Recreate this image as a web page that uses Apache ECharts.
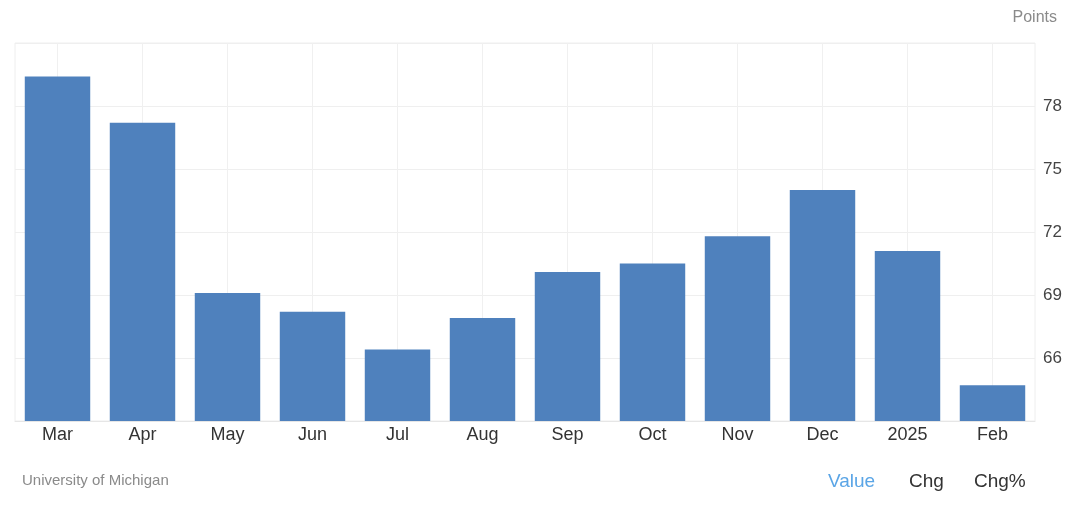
<!DOCTYPE html>
<html>
<head>
<meta charset="utf-8">
<script src="https://cdn.jsdelivr.net/npm/echarts@6/dist/echarts.min.js"></script>
<style>
html,body{margin:0;padding:0;background:#fff;}
#c{width:1080px;height:520px;}
</style>
</head>
<body>
<div id="c"></div>
<script>
const categories = ['Mar','Apr','May','Jun','Jul','Aug','Sep','Oct','Nov','Dec','2025','Feb'];
const values = [79.4, 77.2, 69.1, 68.2, 66.4, 67.9, 70.1, 70.5, 71.8, 74.0, 71.1, 64.7];
const yTickLabels = [66, 69, 72, 75, 78];

const chart = echarts.init(document.getElementById('c'));
const font = 'Liberation Sans, Arial, sans-serif';
chart.setOption({
  animation: false,
  textStyle: { fontFamily: font },
  grid: { left: 15, right: 45, top: 43, bottom: 99, show: true, borderColor: '#eeeeee', borderWidth: 1 },
  xAxis: {
    type: 'category',
    data: categories,
    axisLine: { show: true, lineStyle: { color: '#e6e6e6', width: 1 } },
    axisTick: { show: false },
    axisLabel: { color: '#333', fontSize: 18, margin: 5, fontFamily: font },
    splitLine: { show: true, alignWithLabel: true, lineStyle: { color: '#f0f0f0', width: 1 } }
  },
  yAxis: {
    type: 'value',
    position: 'right',
    min: 63,
    max: 81,
    interval: 3,
    axisLine: { show: false },
    axisTick: { show: false },
    axisLabel: {
      color: '#444', fontSize: 17, margin: 8, fontFamily: font, verticalAlign: 'middle', padding: [4, 0, 0, 0],
      formatter: v => yTickLabels.includes(v) ? String(v) : ''
    },
    splitLine: { show: true, lineStyle: { color: '#efefef', width: 1 } }
  },
  series: [{
    type: 'bar',
    data: values,
    barCategoryGap: '23%',
    itemStyle: { color: '#4f81bd' }
  }],
  graphic: [
    { type: 'text', right: 23, top: 10, style: { text: 'Points', fill: '#8a8a8a', fontSize: 16, fontFamily: font } },
    { type: 'text', left: 22, top: 473, style: { text: 'University of Michigan', fill: '#8a8a8a', fontSize: 15, fontFamily: font } },
    { type: 'text', left: 828, top: 472, style: { text: 'Value', fill: '#5aa5e6', fontSize: 19, fontFamily: font } },
    { type: 'text', left: 909, top: 472, style: { text: 'Chg', fill: '#333', fontSize: 19, fontFamily: font } },
    { type: 'text', left: 974, top: 472, style: { text: 'Chg%', fill: '#333', fontSize: 19, fontFamily: font } }
  ]
});
</script>
</body>
</html>
